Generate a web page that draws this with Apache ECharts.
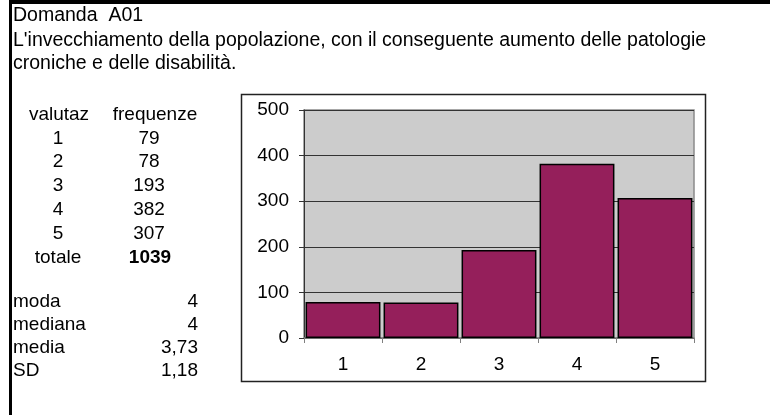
<!DOCTYPE html>
<html>
<head>
<meta charset="utf-8">
<script src="https://cdn.jsdelivr.net/npm/echarts@6/dist/echarts.min.js"></script>
<style>
html,body{margin:0;padding:0;background:#fff;}
#chart{width:770px;height:415px;}
</style>
</head>
<body>
<div id="chart"></div>
<script>
const titleLines = ['Domanda  A01', "L'invecchiamento della popolazione, con il conseguente aumento delle patologie", 'croniche e delle disabilità.'];
const tableHeaders = ['valutaz', 'frequenze'];
const categories = ['1', '2', '3', '4', '5'];
const frequencies = [79, 78, 193, 382, 307];
const totalLabel = 'totale';
const totalValue = '1039';
const statLabels = ['moda', 'mediana', 'media', 'SD'];
const statValues = ['4', '4', '3,73', '1,18'];
const yTicks = [0, 100, 200, 300, 400, 500];

const FONT = 'Liberation Sans, Arial, sans-serif';
const FS = 19;
const FS_TITLE = 19.5;
const chart = echarts.init(document.getElementById('chart'));

const g = [];
// frame
g.push({type:'rect', shape:{x:9, y:0, width:761, height:4}, style:{fill:'#000'}, z:10});
g.push({type:'rect', shape:{x:9, y:0, width:3, height:415}, style:{fill:'#000'}, z:10});
// chart box
g.push({type:'rect', shape:{x:241.5, y:94.5, width:464, height:287}, style:{fill:'#fff', stroke:'#222', lineWidth:1.5}, z:-10});
function txt(x, y, s, align, bold, fs){
  g.push({type:'text', x:x, y:y, style:{text:s, fill:'#000', font:(bold?'bold ':'') + (fs||FS) + 'px ' + FONT, textAlign:align||'left', textVerticalAlign:'middle'}, z:20});
}
const titleY = [15.8, 41, 63.5];
titleLines.forEach((s,i)=>txt(13, titleY[i], s, 'left', false, FS_TITLE));
const rowY0 = 114.6, rowStep = 23.8;
txt(59, rowY0, tableHeaders[0], 'center');
txt(155, rowY0, tableHeaders[1], 'center');
categories.forEach((c,i)=>{
  txt(58, rowY0 + rowStep*(i+1), c, 'center');
  txt(149, rowY0 + rowStep*(i+1), String(frequencies[i]), 'center');
});
txt(58, rowY0 + rowStep*6, totalLabel, 'center');
txt(150, rowY0 + rowStep*6, totalValue, 'center', true);
const statY0 = 301.5, statStep = 23.1;
statLabels.forEach((s,i)=>{
  txt(13, statY0 + statStep*i, s, 'left');
  txt(198, statY0 + statStep*i, statValues[i], 'right');
});

chart.setOption({
  animation:false,
  backgroundColor:'#fff',
  graphic:g,
  grid:{left:304, top:110, width:390, height:228, show:true, backgroundColor:'#cccccc', borderColor:'#8a8a8a', borderWidth:1.5},
  xAxis:{type:'category', data:categories,
    axisLine:{show:true, lineStyle:{color:'#808080', width:1.5}},
    axisTick:{show:true, length:5, lineStyle:{color:'#808080'}},
    axisLabel:{color:'#000', fontSize:FS, fontFamily:FONT, margin:17}},
  yAxis:{type:'value', min:yTicks[0], max:yTicks[yTicks.length-1], interval:100,
    axisLine:{show:true, lineStyle:{color:'#333', width:1}},
    axisTick:{show:true, length:5, lineStyle:{color:'#333'}},
    splitLine:{show:true, lineStyle:{color:'#333', width:1}},
    axisLabel:{color:'#000', fontSize:FS, fontFamily:FONT, margin:15}},
  series:[{type:'bar', data:frequencies, barCategoryGap:'4%',
    itemStyle:{color:'#951f5b', borderColor:'#000', borderWidth:1.5}}]
});
</script>
</body>
</html>
